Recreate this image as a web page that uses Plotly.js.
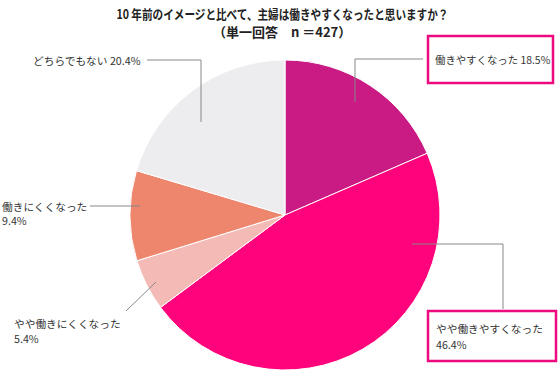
<!DOCTYPE html>
<html>
<head>
<meta charset="utf-8">
<script src="https://cdn.plot.ly/plotly-3.0.1.min.js"></script>
<style>html,body{margin:0;padding:0;background:#fff;}#chart{width:559px;height:373px;}</style>
</head>
<body>
<div id="chart"></div>
<script>
const categories = ["働きやすくなった", "やや働きやすくなった", "やや働きにくくなった", "働きにくくなった", "どちらでもない"];
const values = [18.5, 46.4, 5.4, 9.4, 20.4];
const colors = ["#CA1A84", "#FE037B", "#F4BAB6", "#EE866E", "#EDEDEF"];
const titleLine1 = "10 年前のイメージと比べて、主婦は働きやすくなったと思いますか？";
const titleLine2 = "（単一回答　n ＝427）";

const W = 559, H = 373;
const px = x => x / W;
const py = y => 1 - y / H;
const FONT = "Noto Sans CJK JP, sans-serif";
const pct = i => values[i].toFixed(1) + "%";

const annotations = [
  {text: "<b>" + titleLine1 + "</b>", x: px(282), y: py(13), xanchor: "center", yanchor: "middle", font: {size: 13, color: "#222"}},
  {text: "<b>" + titleLine2 + "</b>", x: px(282), y: py(31), xanchor: "center", yanchor: "middle", font: {size: 13, color: "#222"}},
  {text: categories[0] + " " + pct(0), x: px(433), y: py(59), xanchor: "left", yanchor: "middle", font: {size: 10.4, color: "#333"}},
  {text: categories[1], x: px(434), y: py(328), xanchor: "left", yanchor: "middle", font: {size: 10.7, color: "#333"}},
  {text: pct(1), x: px(434), y: py(344), xanchor: "left", yanchor: "middle", font: {size: 10.7, color: "#333"}},
  {text: categories[2], x: px(12), y: py(323), xanchor: "left", yanchor: "middle", font: {size: 10.7, color: "#333"}},
  {text: pct(2), x: px(12), y: py(338), xanchor: "left", yanchor: "middle", font: {size: 10.7, color: "#333"}},
  {text: categories[3], x: px(0), y: py(206), xanchor: "left", yanchor: "middle", font: {size: 10.7, color: "#333"}},
  {text: pct(3), x: px(0), y: py(221), xanchor: "left", yanchor: "middle", font: {size: 10.7, color: "#333"}},
  {text: categories[4] + " " + pct(4), x: px(143), y: py(60), xanchor: "right", yanchor: "middle", font: {size: 10.7, color: "#333"}}
].map(a => Object.assign({xref: "paper", yref: "paper", showarrow: false}, a));

const lineStyle = {color: "#888", width: 1};
const seg = (x0, y0, x1, y1) => ({type: "line", xref: "paper", yref: "paper", x0: px(x0), y0: py(y0), x1: px(x1), y1: py(y1), line: lineStyle, layer: "above"});
const box = (x0, y0, x1, y1) => ({type: "rect", xref: "paper", yref: "paper", x0: px(x0), y0: py(y0), x1: px(x1), y1: py(y1), line: {color: "#EC0A7E", width: 2.5}, fillcolor: "rgba(0,0,0,0)"});

const shapes = [
  seg(355, 59, 423, 59), seg(355, 59, 355, 102),
  seg(412, 244, 503, 244), seg(503, 244, 503, 309),
  seg(126, 311, 156, 282),
  seg(90, 206, 140, 206),
  seg(147, 60, 201, 60), seg(201, 60, 201, 122),
  box(428, 36, 553, 83),
  box(428, 311, 556, 361)
];

const data = [{
  type: "pie",
  labels: categories,
  values: values,
  marker: {colors: colors, line: {color: "#fff", width: 1}},
  sort: false,
  direction: "clockwise",
  rotation: 0,
  textinfo: "none",
  hoverinfo: "label+percent",
  domain: {x: [px(130), px(440)], y: [py(370), py(60)]}
}];

const layout = {
  width: W, height: H,
  margin: {l: 0, r: 0, t: 0, b: 0},
  paper_bgcolor: "#fff",
  showlegend: false,
  font: {family: FONT, size: 11, color: "#333"},
  annotations: annotations,
  shapes: shapes
};

Plotly.newPlot("chart", data, layout, {displayModeBar: false, staticPlot: true}).then(gd => {
  // the reference title uses a condensed face: compress the first title line to its measured width
  const t = gd.querySelector('.annotation[data-index="0"] text');
  if (t) {
    t.setAttribute("textLength", "332");
    t.setAttribute("lengthAdjust", "spacingAndGlyphs");
  }
});
</script>
</body>
</html>
